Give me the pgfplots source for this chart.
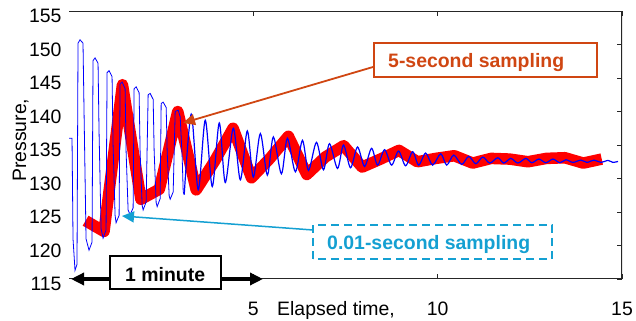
\documentclass[border=0pt]{standalone}
\usepackage{pgfplots}
\pgfplotsset{compat=1.18}
\usepackage{fontspec}
\setmainfont{Liberation Sans}
\usetikzlibrary{arrows.meta}
\definecolor{orng}{RGB}{208,70,18}
\definecolor{cyn}{RGB}{20,160,210}
\begin{document}
\begin{tikzpicture}
\useasboundingbox (0,0) rectangle (636bp,321bp);
\begin{axis}[
  at={(69bp,42bp)}, anchor=south west,
  scale only axis, width=553bp, height=268bp,
  xmin=0, xmax=15, ymin=115, ymax=155,
  xtick={5,10,15}, ytick={115,120,...,155},
  ytick pos=right, yticklabel pos=left,
  axis line style={draw=none},
  tick align=inside, major tick length=5bp,
  every tick/.style={black!85, line width=1bp},
  /pgf/number format/assume math mode=true,
  ticklabel style={font=\fontsize{19.5}{22}\selectfont},
  xticklabel style={anchor=base, yshift=-36bp},
  yticklabel style={xshift=-4bp, yshift=-5bp},
]
% 5-second sampling
\addplot[red, line width=11.5bp, line join=round, line cap=butt] coordinates {
(0.45,123.7)(0.95,122.1)(1.45,144.0)(1.95,126.9)(2.45,128.4)(2.95,140.0)
(3.45,128.3)(3.95,132.6)(4.45,137.5)(4.95,130.1)(5.45,133.0)(5.95,136.3)
(6.45,130.6)(6.95,133.2)(7.45,134.9)(7.95,131.7)(8.45,132.9)(8.95,134.2)
(9.45,132.5)(9.95,133.0)(10.45,133.4)(10.95,132.3)(11.45,133.0)(11.95,132.9)
(12.45,132.5)(12.95,133.0)(13.45,133.1)(13.95,132.3)(14.45,132.9)
};
% 0.01-second sampling, early part
\addplot[blue, line width=0.8bp, sharp plot] coordinates {
(0.000,136.0)(0.082,136.0)(0.109,121.0)(0.163,116.3)(0.217,117.2)(0.245,150.2)
(0.299,150.7)(0.380,150.2)(0.408,140.0)(0.462,121.0)(0.543,119.3)(0.625,120.5)
(0.652,147.6)(0.707,148.0)(0.788,147.2)(0.815,137.0)(0.870,122.5)(0.924,121.1)
(1.005,122.3)(1.033,145.8)(1.087,146.1)(1.168,145.2)(1.196,135.0)(1.250,124.5)
(1.277,123.4)(1.359,124.5)(1.386,144.1)(1.440,144.4)(1.522,143.4)(1.549,134.0)
(1.603,125.3)(1.658,124.6)(1.739,125.6)(1.766,143.4)(1.821,143.7)(1.902,142.8)
(1.929,134.0)(1.984,126.0)(2.011,125.3)(2.092,126.5)(2.147,142.5)(2.201,142.7)
(2.283,141.8)(2.310,134.0)(2.364,126.4)(2.391,125.8)(2.473,127.0)(2.500,141.2)
(2.554,141.4)(2.636,140.6)(2.663,134.0)(2.717,127.4)(2.745,126.9)(2.826,128.0)
(2.880,140.0)(2.962,140.2)(3.016,139.2)(3.071,133.0)(3.098,128.0)(3.125,127.6)
};
% 0.01-second sampling, later part
\addplot[blue, line width=1.2bp, smooth] coordinates {
(3.125,127.6)(3.315,139.6)(3.505,128.3)(3.696,138.7)(3.886,128.8)(4.076,138.3)
(4.239,129.4)(4.457,137.5)(4.647,129.8)(4.837,137.1)(5.000,130.2)(5.190,136.7)
(5.380,130.5)(5.543,136.2)(5.761,130.7)(5.924,136.0)(6.141,131.0)(6.332,135.7)
(6.495,131.2)(6.712,135.4)(6.902,131.3)(7.065,135.2)(7.283,131.5)(7.446,135.0)
(7.636,131.6)(7.826,134.7)(8.016,131.8)(8.207,134.5)(8.370,132.0)(8.560,134.3)
(8.750,132.0)(8.940,134.1)(9.130,131.9)(9.321,134.0)(9.484,132.0)(9.674,133.8)
(9.864,132.0)(10.082,133.7)(10.245,132.0)(10.435,133.5)(10.652,132.1)(10.842,133.3)
(11.033,132.2)(11.223,133.2)(11.413,132.3)(11.630,133.1)(11.793,132.3)(11.984,133.0)
(12.174,132.3)(12.391,133.0)(12.554,132.35)(12.745,132.9)(12.935,132.35)(13.125,132.9)
(13.315,132.35)(13.478,132.8)(13.668,132.4)(13.886,132.75)(14.049,132.4)(14.239,132.75)
(14.429,132.4)(14.620,132.7)(14.755,132.4)(14.891,132.55)
};
\draw[black!85, line width=1.2bp] (rel axis cs:0,1) -- (rel axis cs:1,1) -- (rel axis cs:1,0) -- (rel axis cs:0,0);
\end{axis}
% annotations
\draw[orng, line width=1.8bp, -{Triangle[length=12bp,width=11bp]}] (373bp,254bp) -- (183bp,198bp);
\draw[cyn, line width=1.5bp, -{Triangle[length=12bp,width=11bp]}] (313bp,91bp) -- (122bp,105bp);
\draw[black, line width=3.5bp, {Triangle[length=13bp,width=12bp]}-{Triangle[length=13bp,width=12bp]}] (71bp,42bp) -- (263bp,42bp);
\draw[orng, line width=1.6bp, fill=white] (374bp,244bp) rectangle (597bp,278bp);
\node[anchor=base west, inner sep=0, text=orng, font=\fontsize{19.5}{22}\selectfont\bfseries] at (388bp,253bp) {5-second sampling};
\draw[cyn, line width=1.5bp, dash pattern=on 8bp off 5bp, fill=white] (313bp,62bp) rectangle (552bp,96bp);
\node[anchor=base west, inner sep=0, text=cyn, font=\fontsize{19.5}{22}\selectfont\bfseries] at (327bp,71bp) {0.01-second sampling};
\draw[black, line width=2bp, fill=white] (110bp,32bp) rectangle (221bp,65bp);
\node[anchor=base west, inner sep=0, font=\fontsize{19.5}{22}\selectfont\bfseries] at (125bp,39.5bp) {1 minute};
\node[anchor=base west, inner sep=0, font=\fontsize{19.5}{22}\selectfont] at (277bp,6bp) {Elapsed time,};
\node[rotate=90, anchor=base west, inner sep=0, font=\fontsize{19.5}{22}\selectfont] at (26bp,139bp) {Pressure,};
\end{tikzpicture}
\end{document}
